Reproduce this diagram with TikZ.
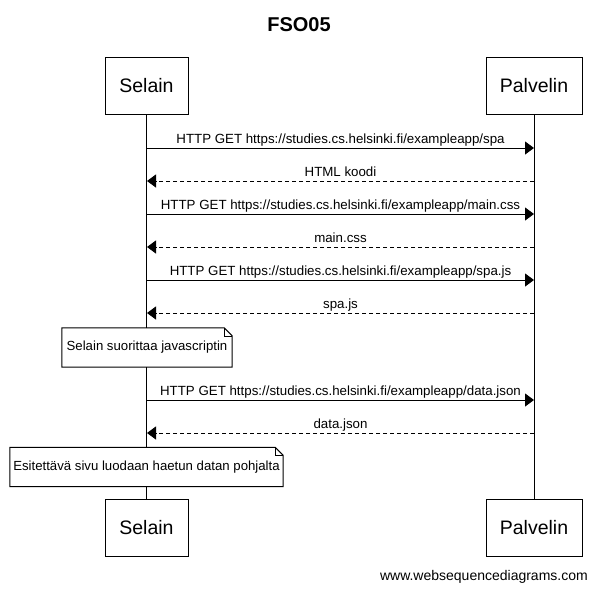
\documentclass[tikz,border=0pt]{standalone}
\usepackage{fontspec}
\setmainfont{Liberation Sans}
\usetikzlibrary{arrows.meta}
\begin{document}
\begin{tikzpicture}[x=1pt,y=-1pt,
  actor/.style={draw,line width=1pt,fill=white,minimum height=57pt,inner sep=0pt,font=\fontsize{19.5}{22}\selectfont},
  life/.style={line width=1pt},
  msg/.style={line width=1pt,-{Triangle[length=9pt,width=13pt]}},
  reply/.style={msg,dash pattern=on 4pt off 3pt},
  lbl/.style={anchor=base,yshift=5pt,inner sep=0pt,font=\fontsize{13.3}{15}\selectfont},
  notebox/.style={fill=white,minimum height=39pt,inner sep=0pt,font=\fontsize{13.2}{15}\selectfont},
  noteline/.style={line width=1pt}
]
\useasboundingbox (0,0) rectangle (597,590);
\node[font=\bfseries\fontsize{20}{24}\selectfont] (title) at (299,25) {FSO05};
\node[actor,minimum width=83pt] (s) at (146.5,85.5) {Selain};
\node[actor,minimum width=96pt] (p) at (534,85.5) {Palvelin};
\node[actor,minimum width=83pt] (sb) at (146.5,527.5) {Selain};
\node[actor,minimum width=96pt] (pb) at (534,527.5) {Palvelin};
\draw[life] (s.south) -- (sb.north);
\draw[life] (p.south) -- (pb.north);
% message coordinates
\foreach \i/\y in {1/148,2/181,3/214,4/247,5/280,6/313,7/400,8/433}{
  \coordinate (s\i) at (147,\y);
  \coordinate (p\i) at (534,\y);
}
\draw[msg] (s1) -- node[lbl]{HTTP GET https://studies.cs.helsinki.fi/exampleapp/spa} (p1);
\draw[reply] (p2) -- node[lbl]{HTML koodi} (s2);
\draw[msg] (s3) -- node[lbl]{HTTP GET https://studies.cs.helsinki.fi/exampleapp/main.css} (p3);
\draw[reply] (p4) -- node[lbl]{main.css} (s4);
\draw[msg] (s5) -- node[lbl]{HTTP GET https://studies.cs.helsinki.fi/exampleapp/spa.js} (p5);
\draw[reply] (p6) -- node[lbl]{spa.js} (s6);
\draw[msg] (s7) -- node[lbl]{HTTP GET https://studies.cs.helsinki.fi/exampleapp/data.json} (p7);
\draw[reply] (p8) -- node[lbl]{data.json} (s8);
% notes
\node[notebox,minimum width=170pt] (n1) at (147,347.5) {Selain suorittaa javascriptin};
\node[notebox,minimum width=273pt] (n2) at (146.5,467) {Esitettävä sivu luodaan haetun datan pohjalta};
\foreach \n in {n1,n2}{
  \draw[noteline] (\n.north west) -- ([xshift=-8pt]\n.north east) -- ([yshift=-8pt]\n.north east) -- (\n.south east) -- (\n.south west) -- cycle;
  \draw[line width=0.6pt] ([xshift=-8pt]\n.north east) -- ([xshift=-8pt,yshift=-8pt]\n.north east) -- ([yshift=-8pt]\n.north east);
}
\node[anchor=base east,inner sep=0pt,font=\fontsize{14}{16}\selectfont] (footer) at (588,580) {www.websequencediagrams.com};
\end{tikzpicture}
\end{document}
